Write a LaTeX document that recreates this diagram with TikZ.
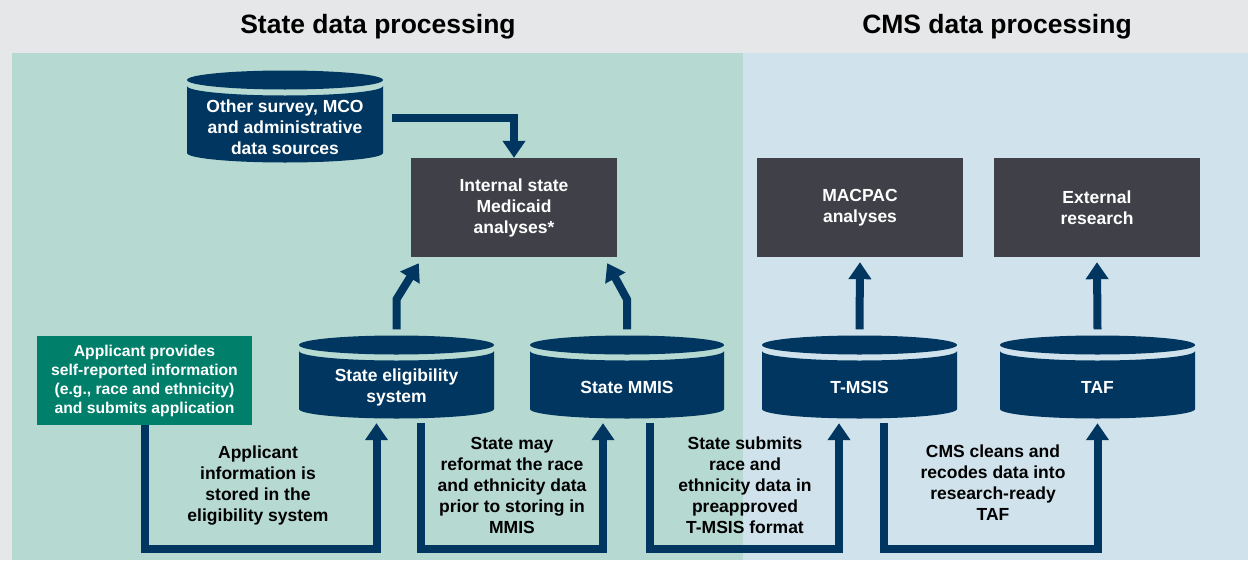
\documentclass[tikz,border=0pt]{standalone}
\usepackage{fontspec}
\setmainfont{Liberation Sans}
\usetikzlibrary{arrows.meta,calc}
\definecolor{navy}{RGB}{0,54,96}
\definecolor{boxgray}{RGB}{64,65,72}
\definecolor{teal}{RGB}{0,128,107}
\definecolor{greenpanel}{RGB}{182,217,209}
\definecolor{bluepanel}{RGB}{208,226,235}
\definecolor{bggray}{RGB}{230,231,232}
\tikzset{
  lbl/.style={font=\fontsize{17.5}{21}\selectfont\bfseries, align=center, inner sep=0pt},
  wlbl/.style={lbl, text=white},
  blbl/.style={lbl, text=black},
  title/.style={font=\fontsize{26.5}{30}\selectfont\bfseries, inner sep=0pt, text=black},
  darkbox/.style={fill=boxgray, draw=none, minimum width=206pt, minimum height=99pt, inner sep=0pt, wlbl},
  cylframe/.style={draw=none, inner sep=0pt},
  arr/.style={draw=navy, line width=8pt, line join=miter, -{Triangle[width=22pt,length=17pt]}},
  seg/.style={draw=navy, line width=8pt, line join=miter}
}
% #1 name, #2 x1, #3 x2, #4 yc, #5 yb (side bottom), #6 text y, #7 text
\newcommand\dbcyl[7]{%
  \pgfmathsetmacro\rx{(#3-#2)/2}%
  \pgfmathsetmacro\cx{(#3+#2)/2}%
  \fill[navy] (#2,-#4-6) -- (#2,-#5) arc[start angle=180,end angle=360,x radius=\rx,y radius=9.5]
     -- (#3,-#4-6) arc[start angle=0,end angle=-180,x radius=\rx,y radius=9.5] -- cycle;
  \fill[navy] (\cx,-#4) ellipse[x radius=\rx, y radius=9.5];
  \node[cylframe, minimum width={#3-#2}, minimum height={#5-#4+19}] (#1) at (\cx,{-(#4+#5)/2}) {};
  \node[wlbl] (#1-t) at (\cx,-#6) {#7};
}
\begin{document}
\begin{tikzpicture}[x=1pt,y=1pt]
\useasboundingbox (0,0) rectangle (1248,-560);
\fill[bggray] (0,0) rectangle (1248,-560);
\fill[greenpanel] (12,-53) rectangle (743,-560);
\fill[bluepanel] (743,-53) rectangle (1248,-560);

\node[title] (t1) at (378,-27) {State data processing};
\node[title] (t2) at (997,-27) {CMS data processing};

\dbcyl{other}{187}{383}{80}{153}{127}{Other survey, MCO\\and administrative\\data sources}
\dbcyl{elig}{299}{494}{345}{409}{387.5}{State eligibility\\system}
\dbcyl{mmis}{530}{724}{345}{409}{387}{State MMIS}
\dbcyl{tmsis}{762}{957}{345}{409}{387}{T-MSIS}
\dbcyl{taf}{1000}{1195}{345}{409}{387}{TAF}

\node[darkbox] (internal) at (514,-207.5) {Internal state\\Medicaid\\analyses*};
\node[darkbox] (macpac) at (860,-207.5) {MACPAC\\analyses};
\node[darkbox] (external) at (1097,-207.5) {External\\research};

\node[fill=teal, minimum width=215pt, minimum height=89pt, inner sep=0pt,
      text=white, align=center, font=\fontsize{15.7}{19}\selectfont\bfseries] (applicant) at (144.5,-380.5)
  {Applicant provides\\self-reported information\\(e.g., race and ethnicity)\\and submits application};

% upper arrows
\draw[arr] ($(other.east)+(9,-1)$) -| (internal.north);
\draw[arr] ($(elig.north)+(0,6)$) -- ($(elig.north)+(0,36)$) -- ($(internal.south west)+(8,-6)$);
\draw[arr] ($(mmis.north)+(0,6)$) -- ($(mmis.north)+(0,36)$) -- ($(internal.south east)+(-10,-6)$);
\draw[arr] ($(tmsis.north)+(0,6)$) -- ($(macpac.south)+(0,-5)$);
\draw[arr] ($(taf.north)+(0,6)$) -- ($(external.south)+(0,-5)$);

% bottom U connectors
\coordinate (base) at (0,-548.5);
\coordinate (s1) at (applicant.south);
\coordinate (e1) at ($(elig.south)+(-20,-4.5)$);
\coordinate (s2) at ($(elig.south)+(24.5,-4.5)$);
\coordinate (e2) at ($(mmis.south)+(-24,-4.5)$);
\coordinate (s3) at ($(mmis.south)+(23,-4.5)$);
\coordinate (e3) at ($(tmsis.south)+(-20.5,-4.5)$);
\coordinate (s4) at ($(tmsis.south)+(24.5,-4.5)$);
\coordinate (e4) at ($(taf.south)+(0,-4.5)$);
\draw[arr] (s1) -- (s1 |- base) -| (e1);
\draw[arr] (s2) -- (s2 |- base) -| (e2);
\draw[arr] (s3) -- (s3 |- base) -| (e3);
\draw[arr] (s4) -- (s4 |- base) -| (e4);

\node[blbl] (lab1) at (258,-486) {Applicant\\information is\\stored in the\\eligibility system};
\node[blbl] (lab2) at (512,-485) {State may\\reformat the race\\and ethnicity data\\prior to storing in\\MMIS};
\node[blbl] (lab3) at (745,-485) {State submits\\race and\\ethnicity data in\\preapproved\\T-MSIS format};
\node[blbl] (lab4) at (993,-483) {CMS cleans and\\recodes data into\\research-ready\\TAF};
\end{tikzpicture}
\end{document}
